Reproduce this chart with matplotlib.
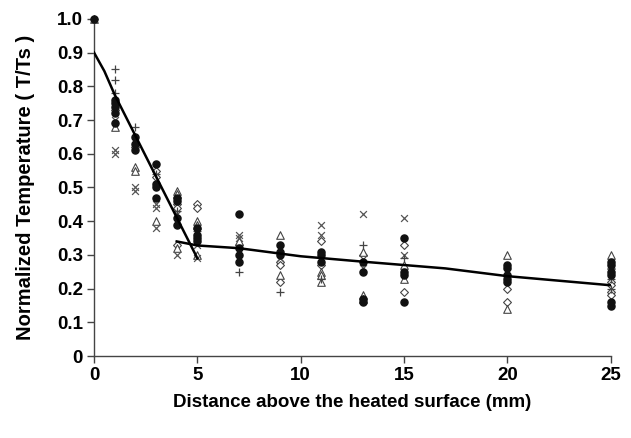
import matplotlib
matplotlib.use("Agg")
import matplotlib.pyplot as plt

# ---- data ----
circ_x = [0, 1, 1, 1, 1, 1, 2, 2, 2, 3, 3, 3, 3, 4, 4, 4, 4, 5, 5, 5, 5,
          7, 7, 7, 7, 9, 9, 9, 11, 11, 11, 13, 13, 13, 13, 15, 15, 15, 15,
          20, 20, 20, 20, 20, 25, 25, 25, 25, 25, 25]
circ_y = [1.0, 0.76, 0.75, 0.74, 0.72, 0.69, 0.65, 0.63, 0.61, 0.57, 0.51, 0.50, 0.47,
          0.47, 0.46, 0.41, 0.39, 0.38, 0.36, 0.35, 0.34,
          0.42, 0.32, 0.30, 0.28, 0.33, 0.31, 0.30, 0.31, 0.30, 0.28,
          0.28, 0.25, 0.17, 0.16, 0.35, 0.25, 0.24, 0.16,
          0.27, 0.26, 0.24, 0.23, 0.22, 0.28, 0.27, 0.25, 0.24, 0.16, 0.15]

diam_x = [1, 2, 3, 3, 4, 4, 4, 5, 5, 7, 9, 9, 9, 11, 11, 13, 15, 15, 20, 20, 25, 25, 25, 25]
diam_y = [0.73, 0.62, 0.55, 0.53, 0.45, 0.44, 0.33, 0.45, 0.44, 0.33, 0.28, 0.27, 0.22,
          0.34, 0.27, 0.30, 0.33, 0.19, 0.20, 0.16, 0.22, 0.21, 0.19, 0.18]

tri_x = [0, 1, 2, 2, 3, 4, 4, 4, 5, 5, 5, 7, 9, 9, 11, 11, 11, 13, 13, 13, 15, 15, 20, 20, 25, 25]
tri_y = [1.0, 0.68, 0.56, 0.55, 0.40, 0.49, 0.48, 0.32, 0.40, 0.39, 0.30, 0.34, 0.36, 0.24,
         0.25, 0.24, 0.22, 0.31, 0.18, 0.17, 0.27, 0.23, 0.30, 0.14, 0.30, 0.27]

cross_x = [1, 1, 1, 2, 2, 3, 3, 3, 4, 4, 5, 5, 7, 7, 9, 11, 11, 13, 13, 15, 15, 20, 25]
cross_y = [0.70, 0.61, 0.60, 0.50, 0.49, 0.45, 0.44, 0.38, 0.30, 0.42, 0.33, 0.29,
           0.36, 0.35, 0.29, 0.39, 0.36, 0.42, 0.26, 0.41, 0.30, 0.25, 0.26]

plus_x = [0, 1, 1, 1, 2, 3, 4, 5, 7, 9, 11, 13, 15, 20, 25, 25]
plus_y = [1.0, 0.85, 0.82, 0.78, 0.68, 0.54, 0.43, 0.37, 0.25, 0.19, 0.23, 0.33, 0.29,
          0.24, 0.23, 0.20]

fit1_x = [0, 0.5, 1, 5]
fit1_y = [0.90, 0.845, 0.775, 0.29]
fit2_x = [4, 5, 7, 10, 13, 15, 17, 20, 25]
fit2_y = [0.34, 0.328, 0.32, 0.296, 0.28, 0.27, 0.26, 0.237, 0.21]

xticks = [0, 5, 10, 15, 20, 25]
yticks = [0, 0.1, 0.2, 0.3, 0.4, 0.5, 0.6, 0.7, 0.8, 0.9, 1.0]
ytick_labels = ["0", "0.1", "0.2", "0.3", "0.4", "0.5", "0.6", "0.7", "0.8", "0.9", "1.0"]

plt.rcParams['font.family'] = ['Liberation Sans', 'DejaVu Sans']

fig = plt.figure(figsize=(6.31, 4.38), dpi=100)
ax = fig.add_axes([0.149, 0.187, 0.819, 0.770])

ax.scatter(diam_x, diam_y, marker='D', s=16, facecolors='white', edgecolors='#444444',
           linewidths=0.8, zorder=3, clip_on=False)
ax.scatter(tri_x, tri_y, marker='^', s=30, facecolors='white', edgecolors='#444444',
           linewidths=0.8, zorder=3, clip_on=False)
ax.scatter(cross_x, cross_y, marker='x', s=24, color='#555555', linewidths=0.9,
           zorder=3, clip_on=False)
ax.scatter(plus_x, plus_y, marker='+', s=28, color='#444444', linewidths=0.9,
           zorder=3, clip_on=False)
ax.scatter(circ_x, circ_y, marker='o', s=26, color='#111111', zorder=4, clip_on=False)

ax.plot(fit1_x, fit1_y, color='black', lw=1.8, zorder=5)
ax.plot(fit2_x, fit2_y, color='black', lw=1.8, zorder=5)

ax.set_xlim(0, 25)
ax.set_ylim(0, 1.0)
ax.set_xticks(xticks)
ax.set_xticklabels([str(t) for t in xticks])
ax.set_yticks(yticks)
ax.set_yticklabels(ytick_labels)
for s in ['top', 'right']:
    ax.spines[s].set_visible(False)
for s in ['left', 'bottom']:
    ax.spines[s].set_color('#444444')
    ax.spines[s].set_linewidth(1.0)
ax.tick_params(direction='out', length=5, width=1, color='#444444',
               labelsize=13.5, pad=3)
for lab in ax.get_xticklabels() + ax.get_yticklabels():
    lab.set_fontweight('bold')

ax.set_xlabel('Distance above the heated surface (mm)', fontsize=13.5,
              fontweight='bold', labelpad=7)
ax.set_ylabel('Normalized Temperature ( T/Ts )', fontsize=14.5,
              fontweight='bold', labelpad=16)

fig.savefig('out.png', dpi=100)
